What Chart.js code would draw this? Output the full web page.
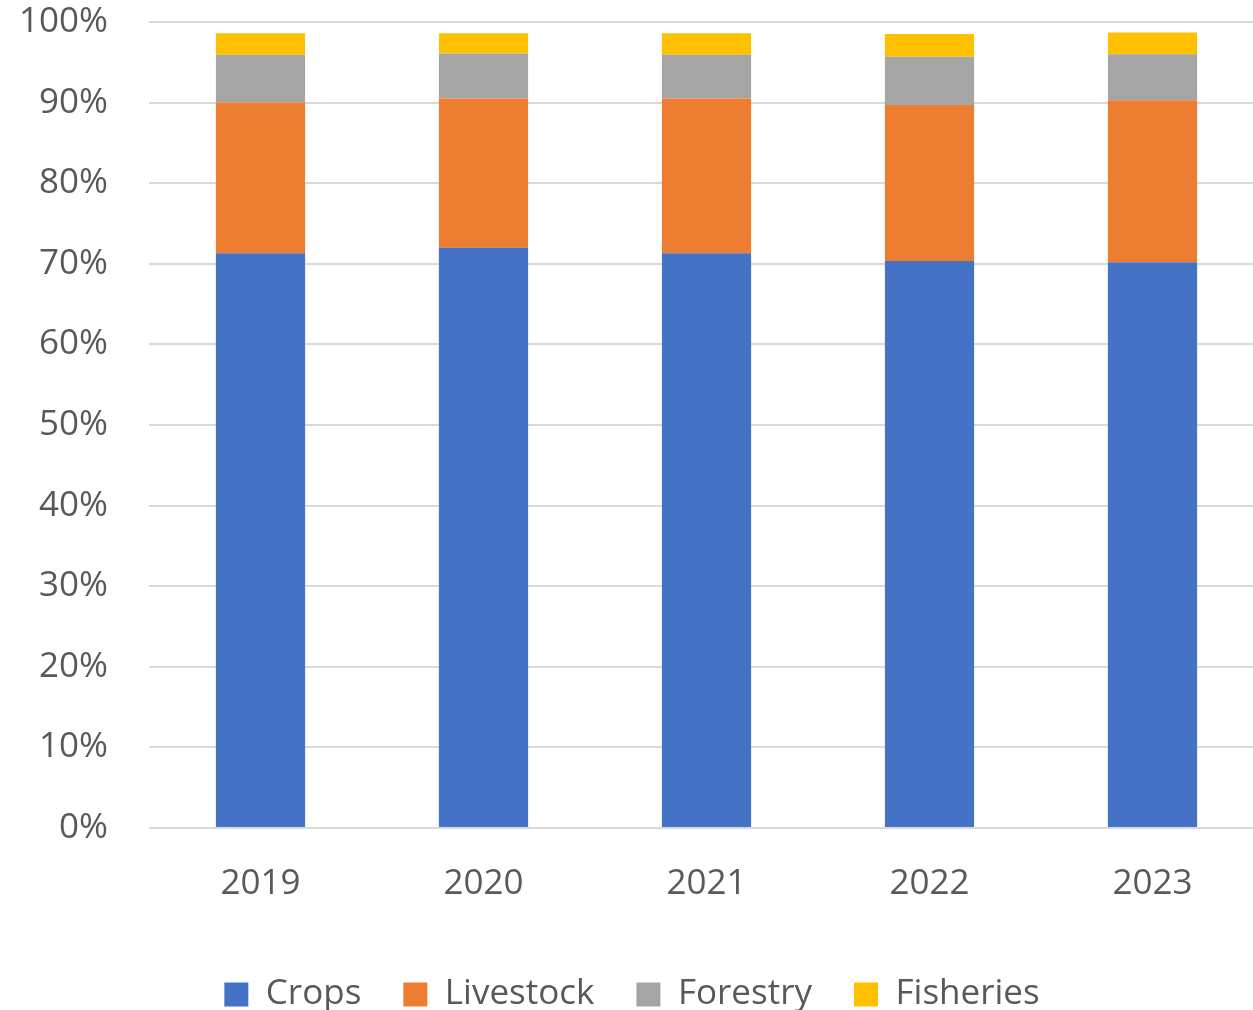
<!DOCTYPE html>
<html lang="en">
<head>
    <meta charset="UTF-8">
    <title>Stacked 100% bar chart</title>
    <style>
        body {
            margin: 0;
            padding: 0;
            overflow: hidden;
            background-color: #ffffff;
        }
        #wrap {
            width: 1264px;
            height: 1010px;
        }
    </style>
</head>
<body>
    <!-- canvas is a bit wider than the window: the original plot runs past the right edge -->
    <div id="wrap"><canvas id="chart1" width="1264" height="1010"></canvas></div>

    <script src="https://cdn.jsdelivr.net/npm/chart.js"></script>
    <script>
        var years = ['2019', '2020', '2021', '2022', '2023'];
        var crops = [71.3, 72.0, 71.3, 70.35, 70.2];
        var livestock = [18.7, 18.5, 19.2, 19.35, 20.1];
        var forestry = [5.95, 5.6, 5.45, 6.0, 5.7];
        var fisheries = [2.65, 2.5, 2.65, 2.8, 2.7];
        var yTicks = [0, 10, 20, 30, 40, 50, 60, 70, 80, 90, 100];

        var textColor = '#595959';
        var fontFamily = '"Open Sans", "Noto Sans", sans-serif';

        function series(label, values, color) {
            return {
                label: label,
                data: values,
                backgroundColor: color,
                borderWidth: 0,
                barPercentage: 0.4,
                categoryPercentage: 1.0
            };
        }

        var ctx = document.getElementById('chart1').getContext('2d');
        new Chart(ctx, {
            type: 'bar',
            data: {
                labels: years,
                datasets: [
                    series('Crops', crops, '#4472c4'),
                    series('Livestock', livestock, '#ed7d31'),
                    series('Forestry', forestry, '#a5a5a5'),
                    series('Fisheries', fisheries, '#ffc000')
                ]
            },
            options: {
                responsive: false,
                animation: false,
                layout: {
                    padding: { top: 22, right: 0, left: 0, bottom: -12 }
                },
                plugins: {
                    tooltip: { enabled: false },
                    legend: {
                        position: 'bottom',
                        labels: {
                            boxWidth: 24,
                            boxHeight: 24,
                            padding: 42,
                            color: textColor,
                            font: { family: fontFamily, size: 35 }
                        }
                    }
                },
                scales: {
                    x: {
                        stacked: true,
                        afterFit: function(axis) {
                            axis.height += 3;
                        },
                        grid: { display: false },
                        border: { display: false },
                        ticks: {
                            color: textColor,
                            padding: 27,
                            font: { family: fontFamily, size: 35 }
                        }
                    },
                    y: {
                        stacked: true,
                        min: 0,
                        max: 100,
                        afterBuildTicks: function(axis) {
                            axis.ticks = yTicks.map(function(v) { return { value: v }; });
                        },
                        afterFit: function(axis) {
                            axis.width = 149;
                            axis.paddingTop = 0;
                            axis.paddingBottom = 0;
                        },
                        grid: {
                            color: '#d9d9d9',
                            lineWidth: 2,
                            drawTicks: false
                        },
                        border: { display: false },
                        ticks: {
                            color: textColor,
                            padding: 41,
                            font: { family: fontFamily, size: 35 },
                            callback: function(v) { return v + '%'; }
                        }
                    }
                }
            }
        });
    </script>
</body>
</html>
